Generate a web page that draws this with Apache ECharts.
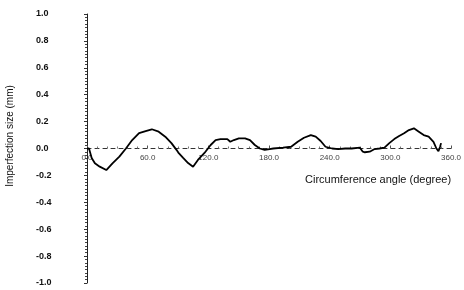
<!DOCTYPE html>
<html>
<head>
<meta charset="utf-8">
<script src="https://cdn.jsdelivr.net/npm/echarts@6/dist/echarts.min.js"></script>
<style>html,body{margin:0;padding:0;background:#fff;}#c{width:464px;height:290px;}</style>
</head>
<body>
<div id="c"></div>
<script>
// Circumference angle (degree)
var angles = [0, 1, 2, 4.6, 7.8, 12.6, 19.1, 25.2, 32, 38.5, 44.7, 51.5, 58, 64.1, 70.9, 77.4, 83.5, 85.4, 88.5, 90.3, 95.1, 100, 104.9, 109.7, 116.2, 122.3, 127.2, 132, 138.8, 141.7, 145.3, 150.2, 156.3, 161.2, 166, 170.9, 175.7, 180.6, 184.2, 193.9, 201.9, 208.4, 214.6, 221.4, 226.2, 231.1, 235.9, 242.4, 248.5, 255.3, 261.8, 269.9, 272.8, 274.8, 279.6, 284.5, 289.3, 294.2, 299, 303.9, 308.7, 313.6, 318.4, 323.3, 328.2, 333, 337.9, 342.7, 345.6, 347.6, 349.2, 350.2];
// Imperfection size (mm)
var sizes = [0.0, 0.01, 0.0, -0.07, -0.11, -0.135, -0.16, -0.11, -0.06, 0.0, 0.063, 0.115, 0.13, 0.143, 0.125, 0.088, 0.04, 0.026, -0.01, -0.03, -0.07, -0.108, -0.135, -0.085, -0.033, 0.026, 0.063, 0.07, 0.07, 0.05, 0.063, 0.076, 0.076, 0.063, 0.026, 0.0, -0.011, -0.004, 0.0, 0.006, 0.013, 0.05, 0.08, 0.1, 0.088, 0.056, 0.013, 0.0, -0.004, 0.0, 0.0, 0.006, -0.024, -0.028, -0.024, -0.004, 0.0, 0.006, 0.04, 0.07, 0.093, 0.113, 0.137, 0.15, 0.125, 0.1, 0.088, 0.05, 0.0, -0.02, 0.013, 0.04];
var xTicks = [0, 60, 120, 180, 240, 300, 360];
var yTicks = [-1.0, -0.8, -0.6, -0.4, -0.2, 0.0, 0.2, 0.4, 0.6, 0.8, 1.0];
var xTitle = 'Circumference angle (degree)';
var yTitle = 'Imperfection size (mm)';

var data = angles.map(function (a, i) { return [a, sizes[i]]; });
var chart = echarts.init(document.getElementById('c'), null, {renderer: 'canvas'});
var font = 'Liberation Sans, Arial, sans-serif';
var gridTop = 14, gridBottom = 7, H = 290;
var plotH = H - gridTop - gridBottom;
chart.setOption({
  animation: false,
  backgroundColor: '#fff',
  grid: {left: 87, right: 6, top: gridTop, bottom: gridBottom, containLabel: false},
  xAxis: {
    type: 'value', min: xTicks[0], max: xTicks[xTicks.length - 1], interval: 60,
    offset: -plotH / 2,
    axisLine: {onZero: false, lineStyle: {color: '#333', width: 1, type: [4, 4]}},
    axisTick: {show: true, inside: true, length: 3, lineStyle: {color: '#555'}},
    minorTick: {show: true, splitNumber: 6, length: 2, lineStyle: {color: '#777'}},
    splitLine: {show: false},
    axisLabel: {margin: 5, color: '#444', fontSize: 8, fontFamily: font,
      formatter: function (v) { return v.toFixed(1); }}
  },
  yAxis: {
    type: 'value', min: yTicks[0], max: yTicks[yTicks.length - 1], interval: 0.2,
    axisLine: {show: true, onZero: false, lineStyle: {color: '#222', width: 1}},
    axisTick: {show: true, length: 3, lineStyle: {color: '#333'}},
    minorTick: {show: true, splitNumber: 8, length: 2, lineStyle: {color: '#444'}},
    splitLine: {show: false},
    axisLabel: {margin: 51, align: 'left', color: '#111', fontSize: 9, fontWeight: 'bold', fontFamily: font,
      formatter: function (v) { return v.toFixed(1); }}
  },
  graphic: [
    {type: 'text', rotation: Math.PI / 2, position: [10, 136],
      style: {text: yTitle, fill: '#111', font: '10px ' + font, textAlign: 'center', textVerticalAlign: 'middle'}},
    {type: 'text', position: [305, 180],
      style: {text: xTitle, fill: '#111', font: '11px ' + font, textAlign: 'left', textVerticalAlign: 'middle'}}
  ],
  series: [{
    type: 'line', data: data, showSymbol: false, smooth: false,
    lineStyle: {color: '#000', width: 1.8}
  }]
});
</script>
</body>
</html>
